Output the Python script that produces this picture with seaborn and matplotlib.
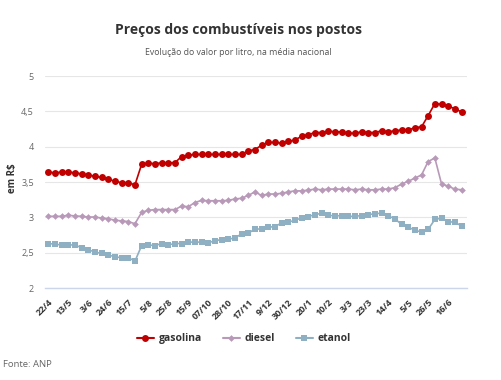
import pandas as pd
import numpy as np

import matplotlib
matplotlib.use('Agg')
import matplotlib.pyplot as plt
from matplotlib.lines import Line2D
import seaborn as sns


# weekly averages (R$ per litre), 63 weeks from 22/4
gasolina = [3.64, 3.63, 3.64, 3.64, 3.63, 3.615, 3.60, 3.58, 3.565, 3.54,
            3.51, 3.49, 3.49, 3.46, 3.75, 3.765, 3.76, 3.77, 3.77, 3.775,
            3.86, 3.88, 3.89, 3.89, 3.89, 3.89, 3.89, 3.89, 3.89, 3.89,
            3.94, 3.96, 4.02, 4.06, 4.06, 4.05, 4.08, 4.09, 4.15, 4.17,
            4.20, 4.20, 4.22, 4.21, 4.21, 4.19, 4.19, 4.21, 4.20, 4.20,
            4.225, 4.21, 4.225, 4.235, 4.235, 4.27, 4.28, 4.44, 4.61, 4.60,
            4.57, 4.54, 4.49]
diesel = [3.015, 3.015, 3.015, 3.03, 3.02, 3.015, 3.005, 3.005, 2.99, 2.98,
          2.96, 2.95, 2.94, 2.91, 3.07, 3.10, 3.11, 3.11, 3.11, 3.11,
          3.16, 3.15, 3.21, 3.24, 3.235, 3.235, 3.235, 3.24, 3.26, 3.27,
          3.31, 3.36, 3.31, 3.33, 3.33, 3.34, 3.36, 3.375, 3.375, 3.385,
          3.40, 3.39, 3.40, 3.40, 3.40, 3.40, 3.39, 3.40, 3.39, 3.39,
          3.40, 3.40, 3.42, 3.47, 3.51, 3.555, 3.60, 3.79, 3.84, 3.475,
          3.44, 3.40, 3.39]
etanol = [2.63, 2.62, 2.61, 2.61, 2.61, 2.57, 2.54, 2.51, 2.49, 2.47,
          2.44, 2.43, 2.43, 2.38, 2.60, 2.61, 2.60, 2.63, 2.61, 2.63,
          2.63, 2.65, 2.65, 2.65, 2.64, 2.67, 2.685, 2.69, 2.71, 2.765,
          2.775, 2.835, 2.835, 2.86, 2.87, 2.92, 2.93, 2.96, 2.99, 3.01,
          3.04, 3.055, 3.03, 3.02, 3.025, 3.015, 3.015, 3.025, 3.04, 3.05,
          3.06, 3.02, 2.98, 2.90, 2.86, 2.82, 2.79, 2.83, 2.97, 2.99,
          2.94, 2.93, 2.88]

# one label every 3 weeks
tick_labels = ['22/4', '13/5', '3/6', '24/6', '15/7', '5/8', '25/8', '15/9',
               '07/10', '28/10', '17/11', '9/12', '30/12', '20/1', '10/2',
               '3/3', '23/3', '14/4', '5/5', '26/5', '16/6']

fuels = ['gasolina', 'diesel', 'etanol']
colors = {'gasolina': '#c00000', 'diesel': '#b89ab8', 'etanol': '#8eb0c2'}
markers = {'gasolina': 'o', 'diesel': 'D', 'etanol': 's'}
sizes = {'gasolina': 5.0, 'diesel': 3.4, 'etanol': 4.6}


def build_frame():
    rows = []
    for name, vals in zip(fuels, [gasolina, diesel, etanol]):
        for i, v in enumerate(vals):
            rows.append({'semana': i, 'preco': v, 'fuel': name})
    return pd.DataFrame(rows)


df = build_frame()

sns.set_style('white')
plt.rcParams['font.family'] = ['Open Sans', 'DejaVu Sans']

fig = plt.figure(figsize=(5.01, 3.80), dpi=100)
ax = fig.add_axes([0.0898, 0.242, 0.842, 0.558])

for name in fuels:
    sub = df[df['fuel'] == name]
    sns.lineplot(data=sub, x='semana', y='preco', ax=ax, color=colors[name],
                 marker=markers[name], markersize=sizes[name],
                 markeredgewidth=0, linewidth=1.2, zorder=3)

ax.set_ylim(2, 5)
ax.set_xlim(-0.5, 62.8)
ax.set_yticks([2, 2.5, 3, 3.5, 4, 4.5, 5])
ax.set_yticklabels(['2', '2,5', '3', '3,5', '4', '4,5', '5'],
                   color='#666666', fontsize=6.5)
ax.yaxis.grid(True, color='#e6e6e6', linewidth=0.8)
ax.set_axisbelow(True)

ax.set_xticks(np.arange(0, 63, 3))
ax.set_xticklabels(tick_labels, rotation=45, ha='right',
                   rotation_mode='anchor', fontsize=6.5,
                   fontweight='bold', color='#333333')

for s in ['top', 'right', 'left']:
    ax.spines[s].set_visible(False)
ax.spines['bottom'].set_color('#ccd6eb')
ax.spines['bottom'].set_linewidth(1)
ax.tick_params(axis='x', length=5, color='#ccd6eb', pad=2)
ax.tick_params(axis='y', length=0, pad=8)

ax.set_xlabel('')
ax.set_ylabel('')
fig.text(0.024, 0.532, 'em R$', rotation=90, ha='center', va='center',
         fontsize=7, fontweight='bold', color='#333333')

fig.text(0.477, 0.92, 'Preços dos combustíveis nos postos', ha='center',
         va='center', fontsize=10, fontweight='bold', color='#333333')
fig.text(0.475, 0.862, 'Evolução do valor por litro, na média nacional',
         ha='center', va='center', fontsize=6.3, color='#555555')

handles = [Line2D([0], [0], color=colors[n], marker=markers[n],
                  markersize=sizes[n], markeredgewidth=0, linewidth=1.5)
           for n in fuels]
leg = fig.legend(handles, fuels, loc='center', ncol=3,
                 bbox_to_anchor=(0.487, 0.108), frameon=False,
                 prop={'size': 7.5, 'weight': 'bold'},
                 handlelength=1.6, handletextpad=0.5, columnspacing=2.0)
for t in leg.get_texts():
    t.set_color('#333333')

fig.text(0.006, 0.04, 'Fonte: ANP', ha='left', va='center',
         fontsize=6.8, color='#666666')

fig.savefig('out.png', dpi=100)
plt.close()
